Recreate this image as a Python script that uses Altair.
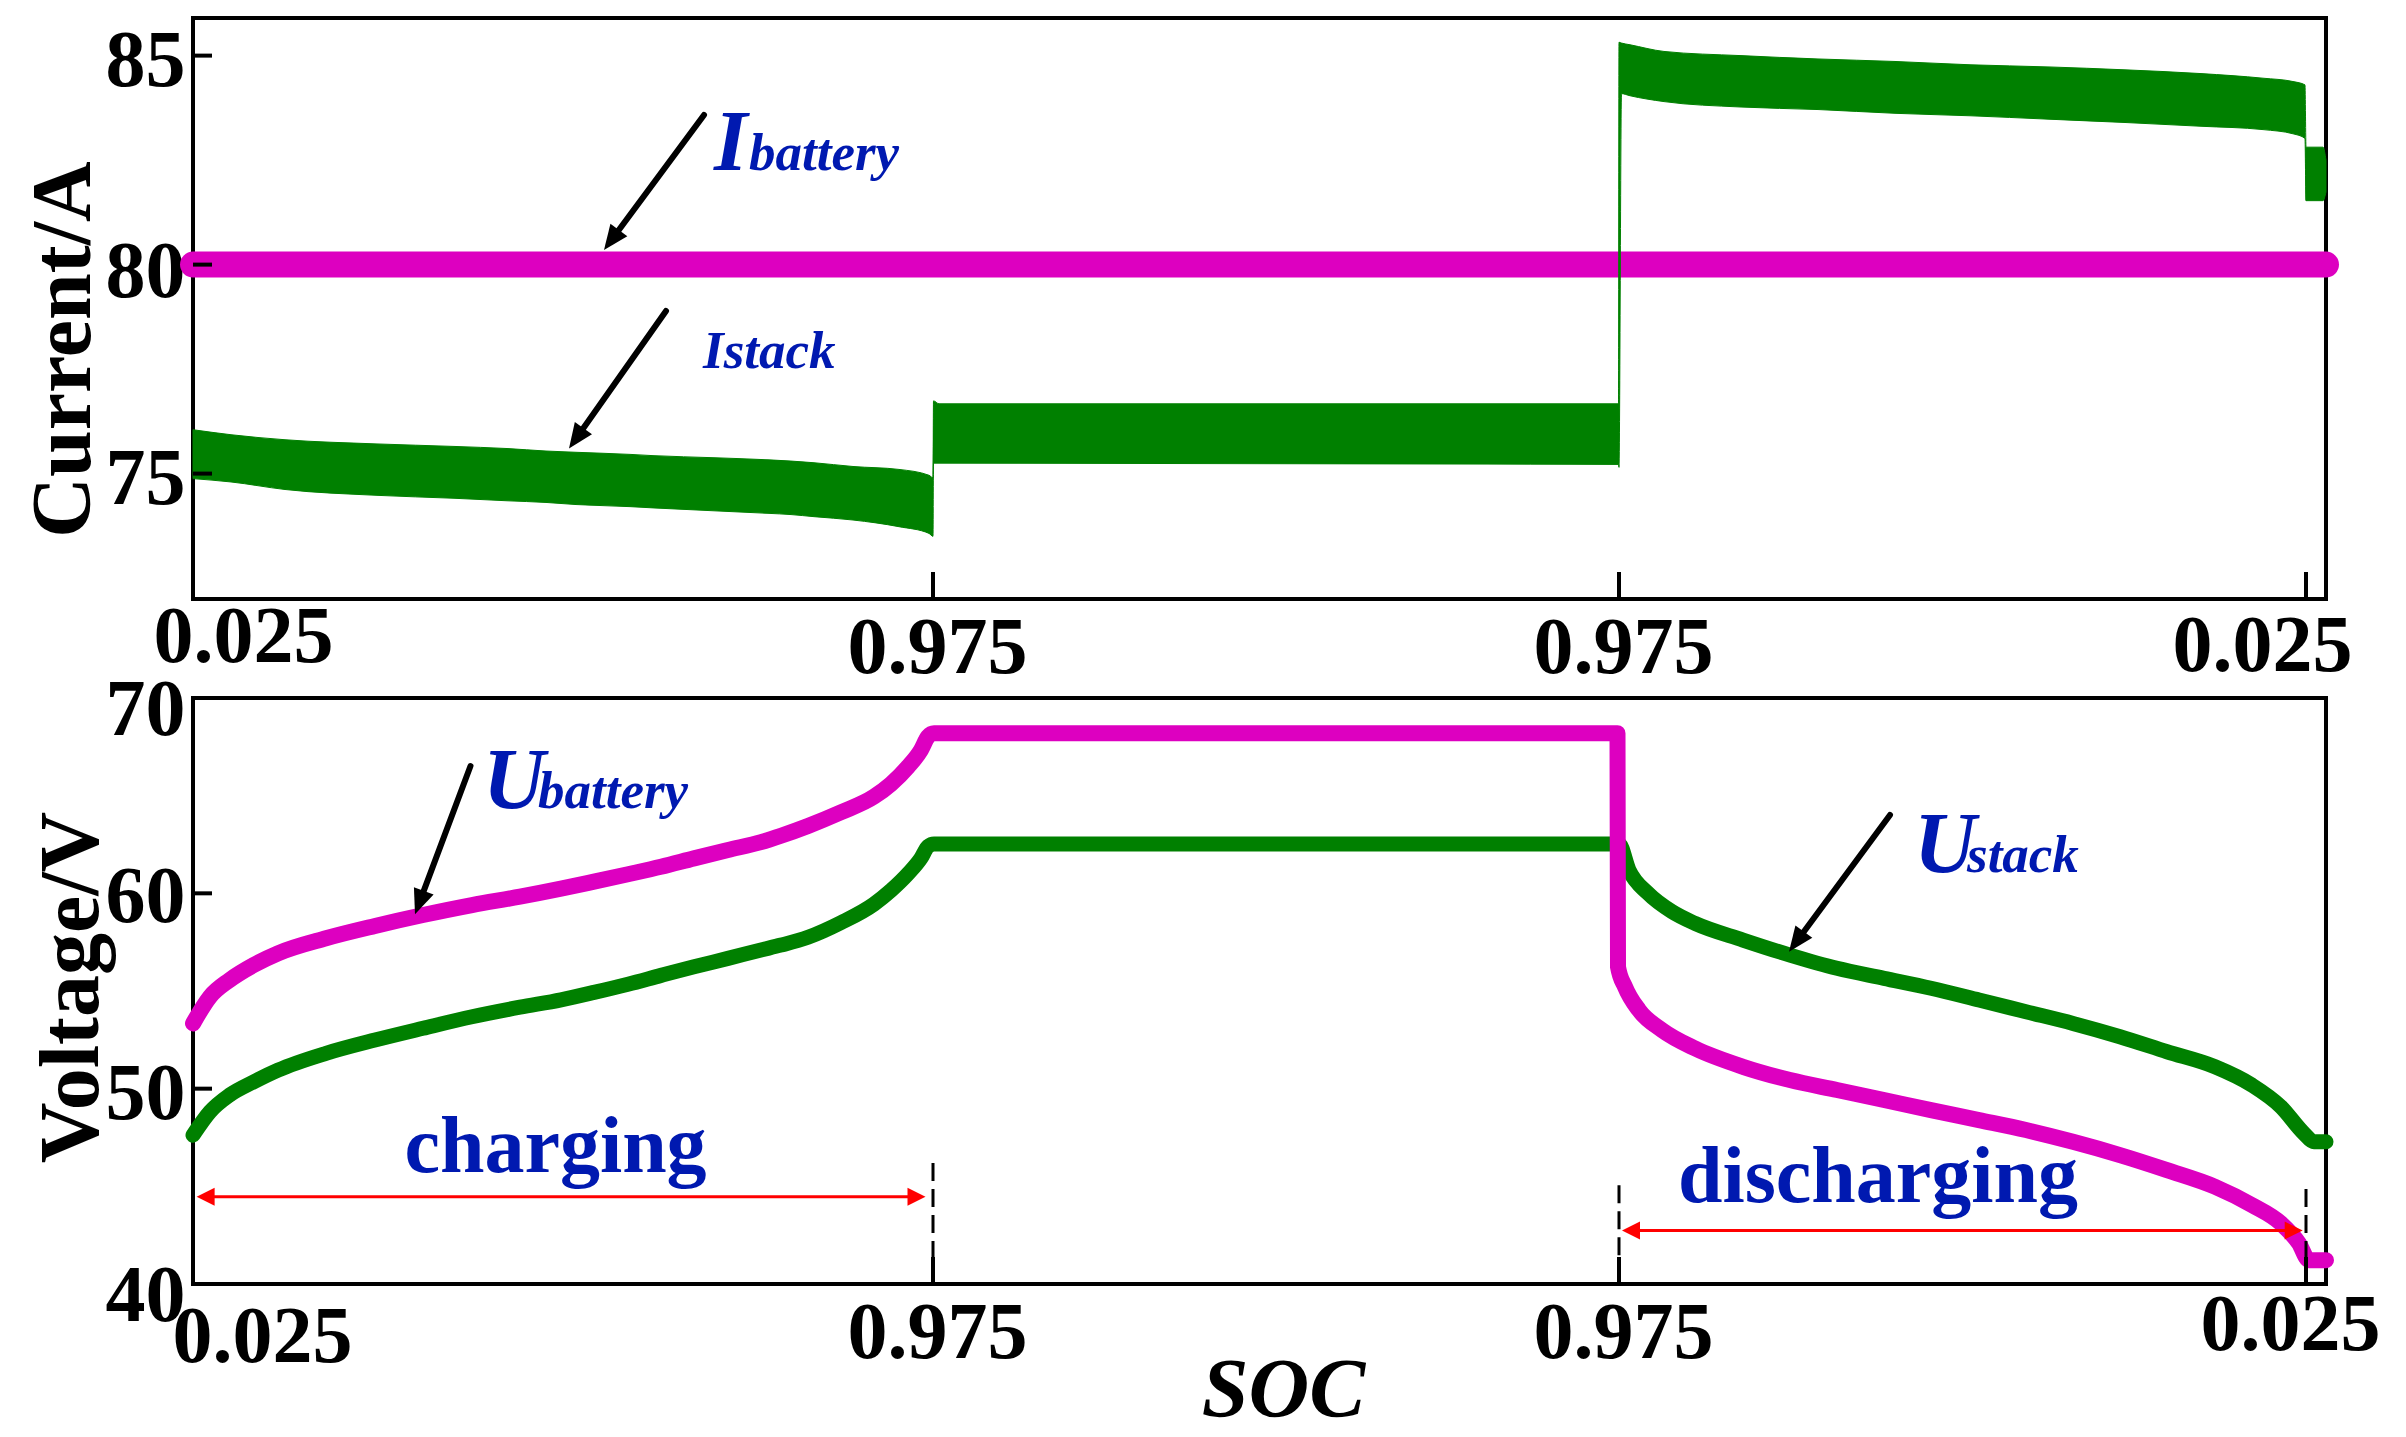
import math
import altair as alt
import pandas as pd

FONT = "Liberation Serif"
MAGENTA = "#dd00c0"
GREEN = "#008000"
BLUE = "#0019b0"
RED = "#ff0000"
BLACK = "#000000"

PANEL_W = 2133
TOP_H = 581
BOT_H = 586
T_DOMAIN = [0.0, 213.3]
TOP_DOMAIN = [72.0, 85.9]
BOT_DOMAIN = [40.0, 70.0]

X_TICK_VALUES = [0.0, 74.0, 142.6, 211.3]
X_TICK_TEXT = ["0.025", "0.975", "0.975", "0.025"]
TOP_Y_TICKS = [75, 80, 85]
BOT_Y_TICKS = [40, 50, 60, 70]

# ---------------- top panel: currents ----------------
istack_t = [0.0, 3.8, 9.2, 18.4, 26.1, 31.4, 35.3, 38.3, 43.7, 46.0, 52.1, 57.5, 59.8, 62.1,
            66.0, 70.6, 73.6, 74.0,
            74.05, 74.6, 100.0, 125.0, 142.55,
            142.6,
            142.85, 143.7, 147.1, 154.8, 162.5, 170.2, 177.8, 185.5, 193.2, 200.8, 207.0,
            210.0, 211.2, 211.3, 213.0, 213.3]
istack_hi = [76.05, 75.93, 75.81, 75.71, 75.65, 75.60, 75.54, 75.51, 75.46, 75.43, 75.38, 75.33,
             75.30, 75.26, 75.17, 75.10, 74.96, 74.90,
             76.74, 76.67, 76.67, 76.67, 76.67,
             85.32,
             85.30, 85.26, 85.10, 85.00, 84.92, 84.86, 84.78, 84.73, 84.66, 84.57, 84.46,
             84.38, 84.30, 82.81, 82.81, 82.50]
istack_lo = [74.88, 74.80, 74.62, 74.48, 74.41, 74.35, 74.31, 74.26, 74.21, 74.18, 74.11, 74.05,
             74.02, 73.97, 73.89, 73.73, 73.57, 73.50,
             75.25, 75.25, 75.24, 75.23, 75.22,
             75.15,
             84.09, 84.04, 83.90, 83.77, 83.71, 83.62, 83.56, 83.48, 83.40, 83.31, 83.23,
             83.13, 83.02, 81.53, 81.53, 81.74]
ibat_t = [0.0, 213.3]
ibat_v = [80.0, 80.0]

# ---------------- bottom panel: voltages ----------------
ubat_t = [0.0, 1.7, 3.65, 6.07, 8.5, 13.3, 18.2, 23.0, 27.9, 32.7, 36.8, 40.1, 43.5, 46.8,
          50.1, 53.5, 56.8, 58.8, 61.5, 64.8, 68.1, 69.8, 71.5, 72.8, 73.5, 74.1, 142.45,
          142.5, 143.2, 144.6, 146.9, 150.2, 155.0, 159.7, 164.4, 169.1, 173.8, 178.6, 183.3,
          188.0, 192.7, 197.4, 202.2, 205.9, 208.8, 210.6, 211.6, 213.3]
ubat_v = [53.34, 54.71, 55.56, 56.33, 56.93, 57.70, 58.33, 58.89, 59.40, 59.83, 60.24, 60.60,
          60.98, 61.36, 61.79, 62.22, 62.62, 62.95, 63.45, 64.15, 64.95, 65.60, 66.48, 67.34,
          68.02, 68.20, 68.20,
          56.24, 55.22, 54.02, 53.00, 52.06, 51.12, 50.44, 49.93, 49.42, 48.90, 48.39, 47.88,
          47.28, 46.60, 45.83, 44.98, 44.04, 43.10, 42.08, 41.22, 41.22]
ustack_t = [0.0, 1.7, 3.65, 6.07, 8.5, 13.3, 18.2, 23.0, 27.9, 32.7, 36.8, 40.1, 43.5, 46.8,
            50.1, 53.5, 56.8, 58.8, 61.5, 64.8, 68.1, 69.8, 71.5, 72.8, 73.5, 74.1, 142.6,
            143.6, 145.5, 147.9, 150.2, 155.0, 159.7, 164.4, 169.1, 173.8, 178.6, 183.3, 188.0,
            192.7, 197.4, 202.2, 205.9, 208.8, 211.1, 212.1, 213.3]
ustack_v = [47.62, 48.82, 49.67, 50.35, 50.95, 51.81, 52.49, 53.09, 53.68, 54.17, 54.55, 54.93,
            55.35, 55.80, 56.24, 56.67, 57.10, 57.35, 57.75, 58.50, 59.45, 60.15, 61.00, 61.80,
            62.40, 62.53, 62.53,
            61.19, 60.00, 59.06, 58.46, 57.61, 56.84, 56.16, 55.65, 55.14, 54.54, 53.94, 53.34,
            52.66, 51.89, 51.12, 50.18, 49.07, 47.71, 47.28, 47.28]

# ---------------- annotations (data coordinates) ----------------
top_arrows = [(51.1, 83.58, 41.1, 80.35), (47.3, 78.89, 37.6, 75.60)]
bot_arrows = [(27.75, 66.52, 22.2, 58.93), (169.7, 64.01, 159.6, 57.01)]
span_t1 = [0.36, 142.9]
span_t2 = [73.25, 210.97]
span_v = [44.47, 42.74]
dash_t = [74.0, 142.6, 211.3]
dash_top = [46.19, 45.06, 44.86]

top_big = [("I", 52.1, 82.27)]
top_small = [("battery", 55.6, 82.27), ("Istack", 51.0, 77.53)]
bot_big = [("U", 29.0, 64.37), ("U", 172.1, 61.09)]
bot_small = [("battery", 34.5, 64.37), ("stack", 177.4, 61.09)]
bot_words = [("charging", 36.25, 45.71), ("discharging", 168.5, 44.18)]

KX = PANEL_W / (T_DOMAIN[1] - T_DOMAIN[0])
KY_TOP = TOP_H / (TOP_DOMAIN[1] - TOP_DOMAIN[0])
KY_BOT = BOT_H / (BOT_DOMAIN[1] - BOT_DOMAIN[0])


def label_expr():
    parts = []
    for i in range(len(X_TICK_VALUES) - 1):
        mid = (X_TICK_VALUES[i] + X_TICK_VALUES[i + 1]) / 2
        parts.append(f"datum.value < {mid} ? '{X_TICK_TEXT[i]}' : ")
    return "".join(parts) + f"'{X_TICK_TEXT[-1]}'"


def x_axis(offset_expr, pad_expr, title=None):
    kw = dict(values=X_TICK_VALUES, labelExpr=label_expr(), ticks=False, tickSize=0,
              domain=False, grid=False, labelFont=FONT, labelFontSize=80,
              labelFontWeight="bold", labelColor=BLACK, labelOverlap=False, labelLimit=0,
              labelOffset={"expr": offset_expr}, labelPadding={"expr": pad_expr},
              labelBaseline="top", labelAlign="center")
    if title is None:
        kw["title"] = None
    else:
        kw.update(title=title, titleFont=FONT, titleFontSize=84, titleFontWeight="bold",
                  titleFontStyle="italic", titleColor=BLACK, titleX=1090, titleY=132,
                  titleAlign="center", titleBaseline="alphabetic", titleLimit=0)
    return alt.Axis(**kw)


def y_axis(values, title, offset_expr, tx, ty):
    return alt.Axis(values=values, ticks=False, tickSize=0, domain=False, grid=False,
                    labelFont=FONT, labelFontSize=80, labelFontWeight="bold", labelColor=BLACK,
                    labelPadding=8, labelOverlap=False, labelLimit=0,
                    labelOffset={"expr": offset_expr},
                    labelAlign="right", labelBaseline="middle", format="d",
                    title=title, titleFont=FONT, titleFontSize=84, titleFontWeight="bold",
                    titleColor=BLACK, titleAngle=270, titleX=tx, titleY=ty, titleLimit=0,
                    titleAlign="center", titleBaseline="middle")


def arrow_tables(arrows, ky, head_len):
    shafts, heads = [], []
    for (t1, v1, t2, v2) in arrows:
        dx = (t2 - t1) * KX
        dy = -(v2 - v1) * ky
        n = math.hypot(dx, dy)
        ux, uy = dx / n, dy / n
        ang = math.degrees(math.atan2(dx, -dy)) % 360
        te = t2 - 0.7 * head_len * ux / KX
        ve = v2 + 0.7 * head_len * uy / ky
        shafts.append({"a": t1, "b": v1, "a2": te, "b2": ve})
        heads.append({"a": t2, "b": v2, "ang": ang})
    return pd.DataFrame(shafts), pd.DataFrame(heads)


def panel(xax, yax, ydom):
    xs = alt.Scale(domain=T_DOMAIN, nice=False, zero=False)
    ys = alt.Scale(domain=ydom, nice=False, zero=False)

    def X(f):
        return alt.X(f"{f}:Q", scale=xs, axis=xax)

    def Y(f):
        return alt.Y(f"{f}:Q", scale=ys, axis=yax)
    return X, Y


HEAD_PATH = "M0,0L-0.42,1L0.42,1Z"
RED_HEAD_PATH = "M0,0L-0.5,1L0.5,1Z"


def text_layer(rows, X, Y, size, style, align="left"):
    df = pd.DataFrame(rows, columns=["txt", "a", "b"])
    return alt.Chart(df).mark_text(font=FONT, fontSize=size, fontWeight="bold",
                                   fontStyle=style, align=align, baseline="alphabetic",
                                   color=BLUE, limit=0).encode(x=X("a"), y=Y("b"), text="txt:N")


def arrow_layers(arrows, X, Y, ky):
    sh, hd = arrow_tables(arrows, ky, 25)
    shaft = alt.Chart(sh).mark_rule(color=BLACK, strokeWidth=6, strokeCap="round").encode(
        x=X("a"), y=Y("b"), x2="a2:Q", y2="b2:Q")
    head = alt.Chart(hd).mark_point(shape=HEAD_PATH, filled=True, size=2500, opacity=1,
                                    color=BLACK).encode(
        x=X("a"), y=Y("b"), angle=alt.Angle("ang:Q", scale=None))
    return [shaft, head]


def tick_layers(xvals, yvals, X, Y, h):
    xt = alt.Chart(pd.DataFrame({"a": xvals})).mark_rule(color=BLACK, strokeWidth=4).encode(
        x=X("a"), y=alt.value(h - 27), y2=alt.value(h))
    yt = alt.Chart(pd.DataFrame({"b": yvals})).mark_rule(color=BLACK, strokeWidth=4).encode(
        y=Y("b"), x=alt.value(0), x2=alt.value(19))
    return [xt, yt]


# ---------------- top panel ----------------
top_xax = x_axis("datum.value < 1 ? 50 : datum.value > 200 ? -44 : 4",
                 "datum.value < 1 ? -1 : datum.value > 200 ? 8 : 10")
top_yax = y_axis(TOP_Y_TICKS, "Current/A", "datum.value == 80 ? 8 : 6", -129, 331)
Xt, Yt = panel(top_xax, top_yax, TOP_DOMAIN)

ibat_df = pd.DataFrame({"a": ibat_t, "b": ibat_v})
istack_df = pd.DataFrame({"a": istack_t, "hi": istack_hi, "lo": istack_lo})

top_layers = [
    alt.Chart(ibat_df).mark_line(color=MAGENTA, strokeWidth=26, strokeCap="round").encode(
        x=Xt("a"), y=Yt("b")),
    alt.Chart(istack_df).mark_area(color=GREEN, opacity=1, stroke=GREEN, strokeWidth=1,
                                   interpolate="monotone").encode(
        x=Xt("a"), y=Yt("hi"), y2="lo:Q"),
]
top_layers += tick_layers(X_TICK_VALUES[1:], TOP_Y_TICKS, Xt, Yt, TOP_H)
top_layers += arrow_layers(top_arrows, Xt, Yt, KY_TOP)
top_layers += [
    text_layer(top_big, Xt, Yt, 86, "italic"),
    text_layer(top_small, Xt, Yt, 53, "italic"),
]
top = alt.layer(*top_layers).properties(width=PANEL_W, height=TOP_H)

# ---------------- bottom panel ----------------
bot_xax = x_axis("datum.value < 1 ? 69 : datum.value > 200 ? -16 : 4",
                 "datum.value < 1 ? 14 : datum.value > 200 ? 2 : 10", title="SOC")
bot_yax = y_axis(BOT_Y_TICKS, "Voltage/V",
                 "datum.value == 70 ? 12 : datum.value == 40 ? 12 : datum.value == 50 ? 6 : 4",
                 -121, 289)
Xb, Yb = panel(bot_xax, bot_yax, BOT_DOMAIN)

ubat_df = pd.DataFrame({"a": ubat_t, "b": ubat_v, "i": list(range(len(ubat_t)))})
ustack_df = pd.DataFrame({"a": ustack_t, "b": ustack_v, "i": list(range(len(ustack_t)))})

red_heads = pd.DataFrame({
    "a": span_t1 + span_t2,
    "b": span_v + span_v,
    "ang": [270.0] * len(span_t1) + [90.0] * len(span_t2),
})
red_len_units = 0.7 * 18 / KX
span_shaft = pd.DataFrame({"a": [t + red_len_units for t in span_t1],
                           "a2": [t - red_len_units for t in span_t2], "b": span_v})
dash_df = pd.DataFrame({"a": dash_t, "b": dash_top, "b2": [BOT_DOMAIN[0]] * len(dash_t)})

bot_layers = [
    alt.Chart(ustack_df).mark_line(color=GREEN, strokeWidth=15, strokeCap="round",
                                   strokeJoin="round", interpolate="monotone").encode(
        x=Xb("a"), y=Yb("b"), order="i:Q"),
    alt.Chart(ubat_df).mark_line(color=MAGENTA, strokeWidth=16, strokeCap="round",
                                 strokeJoin="round", interpolate="monotone").encode(
        x=Xb("a"), y=Yb("b"), order="i:Q"),
    alt.Chart(dash_df).mark_rule(color=BLACK, strokeWidth=3, strokeDash=[18, 8]).encode(
        x=Xb("a"), y=Yb("b"), y2="b2:Q"),
    alt.Chart(span_shaft).mark_rule(color=RED, strokeWidth=3).encode(
        x=Xb("a"), x2="a2:Q", y=Yb("b")),
    alt.Chart(red_heads).mark_point(shape=RED_HEAD_PATH, filled=True, size=1296, opacity=1,
                                    color=RED).encode(
        x=Xb("a"), y=Yb("b"), angle=alt.Angle("ang:Q", scale=None)),
]
bot_layers += tick_layers(X_TICK_VALUES[1:], [50, 60], Xb, Yb, BOT_H)
bot_layers += arrow_layers(bot_arrows, Xb, Yb, KY_BOT)
bot_layers += [
    text_layer(bot_big, Xb, Yb, 86, "italic"),
    text_layer(bot_small, Xb, Yb, 53, "italic"),
    text_layer(bot_words, Xb, Yb, 80, "normal", align="center"),
]
bottom = alt.layer(*bot_layers).properties(width=PANEL_W, height=BOT_H)

chart = alt.VConcatChart(vconcat=[top, bottom], spacing=99, bounds="flush").properties(
    padding={"left": 12, "top": 8, "right": 10, "bottom": 10},
    background="white",
).configure_view(stroke=BLACK, strokeWidth=4)

chart.save("out.html", embed_options={"renderer": "svg", "actions": False})
